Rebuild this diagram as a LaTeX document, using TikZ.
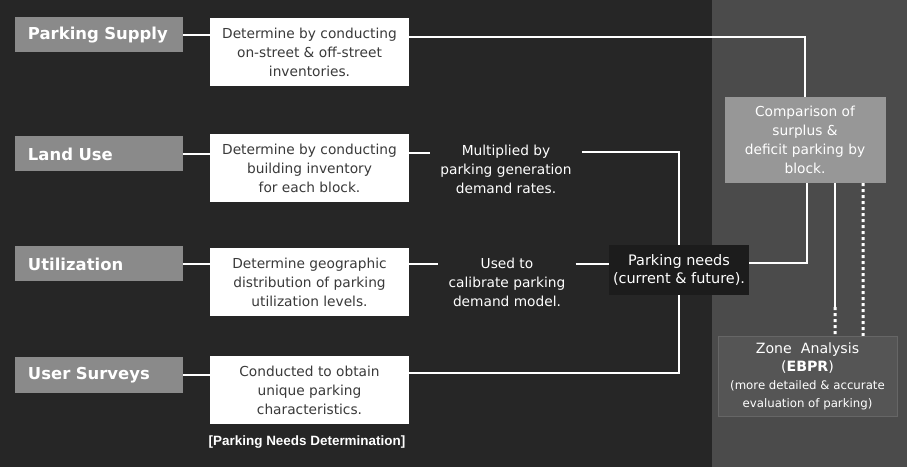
\documentclass[tikz,border=0pt]{standalone}
\usepackage{fontspec}
\setmainfont{DejaVu Sans}
\newfontfamily\capfont{Liberation Sans}
\usetikzlibrary{positioning}

\definecolor{bgdark}{HTML}{262626}
\definecolor{panelgray}{HTML}{4b4b4b}
\definecolor{labelgray}{HTML}{8a8a8a}
\definecolor{compgray}{HTML}{979797}
\definecolor{zonegray}{HTML}{555555}
\definecolor{needsdark}{HTML}{1c1c1c}
\definecolor{textgray}{HTML}{3a3a3a}

\tikzset{
  labelbox/.style={fill=labelgray, text=white, minimum width=168bp, minimum height=35bp,
    text width=142bp, inner xsep=13bp, align=left, font=\bfseries\fontsize{16.5}{18}\selectfont},
  descbox/.style={fill=white, text=textgray, minimum width=199bp, minimum height=68bp,
    inner sep=0pt, align=center, font=\fontsize{13.8}{19}\selectfont},
  notetext/.style={text=white, align=center, inner xsep=10bp, font=\fontsize{13.8}{19}\selectfont},
  link/.style={white, line width=2bp},
  dotlink/.style={white, line width=3bp, dash pattern=on 3bp off 3bp}
}

\begin{document}
\begin{tikzpicture}[x=1bp,y=-1bp]
  % background and right panel
  \fill[bgdark] (0,0) rectangle (907,467);
  \fill[panelgray] (712,0) rectangle (907,467);

  % left column labels
  \node[labelbox] (supply) at (99,35) {Parking Supply};
  \node[labelbox] (landuse) at (99,154) {Land Use};
  \node[labelbox] (util) at (99,264) {Utilization};
  \node[labelbox] (survey) at (99,375) {User Surveys};

  % description boxes
  \node[descbox] (supplydesc) at (309.5,52) {Determine by conducting\\on-street \& off-street\\inventories.};
  \node[descbox] (landdesc) at (309.5,168) {Determine by conducting\\building inventory\\for each block.};
  \node[descbox] (utildesc) at (309.5,282) {Determine geographic\\distribution of parking\\utilization levels.};
  \node[descbox] (surveydesc) at (309.5,390) {Conducted to obtain\\unique parking\\characteristics.};

  % middle notes
  \node[notetext] (mult) at (506,169) {Multiplied by\\parking generation\\demand rates.};
  \node[notetext] (calib) at (507,282) {Used to\\calibrate parking\\demand model.};
  \node[notetext, fill=needsdark, minimum width=140bp, minimum height=50bp, inner xsep=3bp,
    font=\fontsize{14.5}{19}\selectfont] (needs) at (679,270)
    {Parking needs\\(current \& future).};

  % right panel boxes
  \node[fill=compgray, text=white, minimum width=161bp, minimum height=86bp, inner xsep=2bp, align=center,
    font=\fontsize{13.8}{19}\selectfont] (comp) at (805,140)
    {Comparison of\\surplus \&\\deficit parking by\\block.};
  \node[fill=zonegray, draw=black!60, text=white, minimum width=179bp, minimum height=80bp,
    inner xsep=2bp, align=center, font=\fontsize{14.2}{18}\selectfont] (zone) at (807.5,376)
    {Zone\ \ Analysis\\(\textbf{EBPR})\\{\fontsize{11.8}{17}\selectfont(more detailed \& accurate}\\
     {\fontsize{11.8}{17}\selectfont evaluation of parking)}};

  % caption
  \node[text=white, font=\capfont\bfseries\fontsize{13.5}{15}\selectfont] (caption) at (307,442)
    {[Parking Needs Determination]};

  % connectors
  \draw[link] (supply.east) -- (supply.east -| supplydesc.west);
  \draw[link] ([yshift=15bp]supplydesc.east) -| (comp.north);
  \draw[link] (landuse.east) -- (landuse.east -| landdesc.west);
  \draw[link] ([yshift=15bp]landdesc.east) -- ([yshift=15bp]landdesc.east -| mult.west);
  \draw[link] ([yshift=17bp]mult.east) -| (needs.north);
  \draw[link] (util.east) -- (util.east -| utildesc.west);
  \draw[link] ([yshift=18bp]utildesc.east) -- ([yshift=18bp]utildesc.east -| calib.west);
  \draw[link] ([yshift=18bp]calib.east) -- ([yshift=18bp]calib.east -| needs.west);
  \draw[link] ([yshift=7bp]needs.east) -| ([xshift=2bp]comp.south);
  \draw[link] (survey.east) -- (survey.east -| surveydesc.west);
  \draw[link] ([yshift=17bp]surveydesc.east) -| (needs.south);
  \draw[link] ([xshift=30bp]comp.south) -- ([xshift=30bp,yshift=-124bp]comp.south);
  \draw[dotlink] ([xshift=30bp,yshift=-124bp]comp.south) -- ([xshift=27.5bp]zone.north);
  \draw[dotlink] ([xshift=58bp]comp.south) -- ([xshift=55.5bp]zone.north);
\end{tikzpicture}
\end{document}
